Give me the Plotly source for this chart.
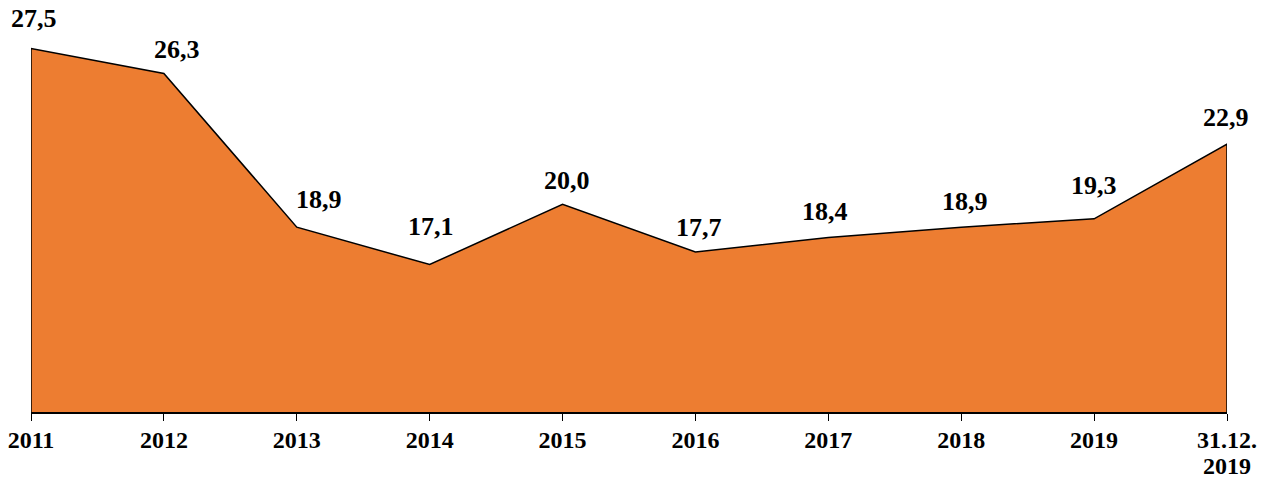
import plotly.graph_objects as go

categories = ["2011", "2012", "2013", "2014", "2015", "2016", "2017", "2018", "2019", "31.12.<br>2019"]
values = [27.5, 26.3, 18.9, 17.1, 20.0, 17.7, 18.4, 18.9, 19.3, 22.9]
labels = ["27,5", "26,3", "18,9", "17,1", "20,0", "17,7", "18,4", "18,9", "19,3", "22,9"]

y_min, y_max = 10, 29.5
label_dx = [3, 13, 22, 1, 4, 4, -3, 4, 0, -1]
label_dy = [30, 24, 28, 38, 24, 25, 26, 26, 33, 27]

idx = list(range(len(categories)))
px = [idx[0]] + idx + [idx[-1]]
py = [y_min] + values + [y_min]

FONT = "Liberation Serif"
TICK_SIZE = 24

fig = go.Figure()
fig.add_trace(go.Scatter(
    x=px, y=py, mode="lines", fill="toself",
    fillcolor="#ED7D31", line=dict(color="black", width=1.5),
    hoverinfo="skip", showlegend=False,
))

for i, (v, t) in enumerate(zip(values, labels)):
    fig.add_annotation(
        x=i, y=v, text="<b>" + t + "</b>", showarrow=False,
        xanchor="center", yanchor="middle",
        xshift=label_dx[i], yshift=label_dy[i],
        font=dict(family=FONT, size=26, color="black"),
    )

# tick labels: first line as axis tick text, further lines as tight text below
tick_first = []
for i, c in enumerate(categories):
    parts = c.split("<br>")
    tick_first.append("<b>" + parts[0] + "</b>")
    for k, extra in enumerate(parts[1:], start=1):
        fig.add_annotation(
            x=i, xref="x", y=0, yref="paper", text="<b>" + extra + "</b>",
            showarrow=False, xanchor="center", yanchor="middle",
            yshift=-28 - 26 * k,
            font=dict(family=FONT, size=TICK_SIZE, color="black"),
        )

fig.update_layout(
    width=1266, height=480,
    margin=dict(l=31, r=39, t=7, b=68),
    plot_bgcolor="white", paper_bgcolor="white",
    showlegend=False,
)
fig.update_xaxes(
    range=[0, len(categories) - 1], automargin=False,
    tickmode="array", tickvals=idx, ticktext=tick_first,
    showline=True, linecolor="black", linewidth=1.5,
    ticks="outside", ticklen=7, tickcolor="black", tickwidth=1,
    showgrid=False, zeroline=False, ticklabelstandoff=-2,
    tickfont=dict(family=FONT, size=TICK_SIZE, color="black"),
)
fig.update_yaxes(
    range=[y_min, y_max], visible=False, showgrid=False, zeroline=False,
    automargin=False,
)

fig.write_html("out.html", config={"displayModeBar": False},
               post_script="document.body.style.margin='0';")
